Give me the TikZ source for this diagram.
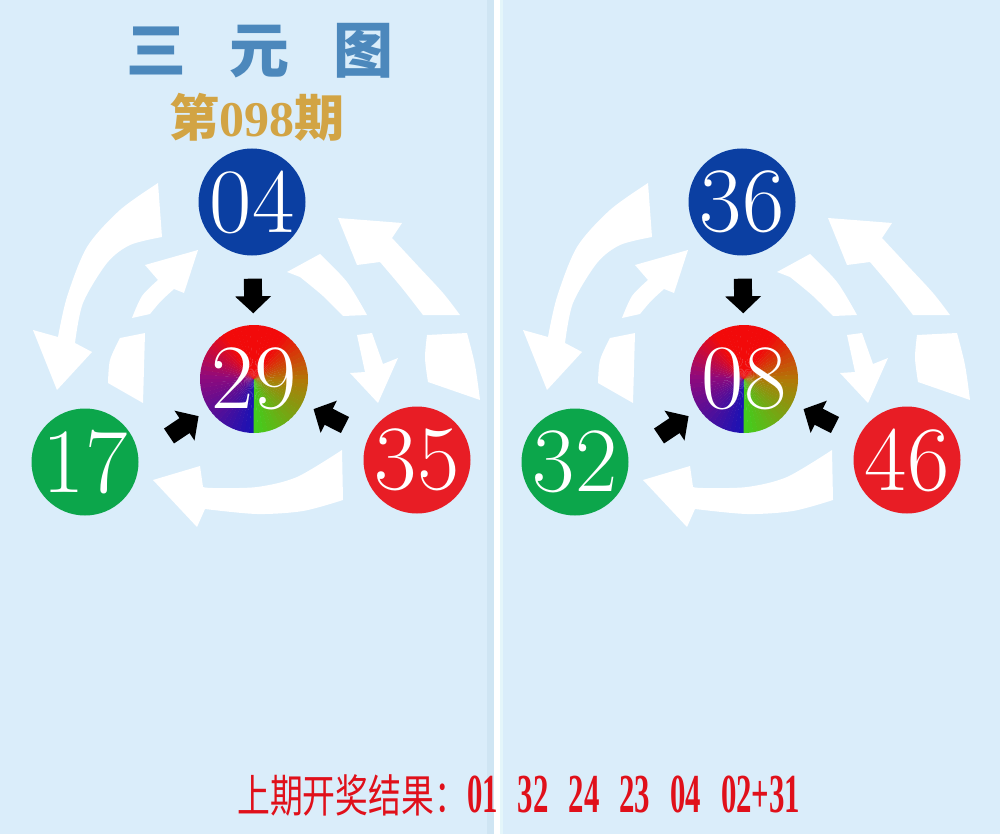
\documentclass[tikz,border=0pt]{standalone}
\usepackage{fontspec}
\newfontfamily\cjk{Noto Sans CJK SC}
\newfontfamily\narrowcjk{Noto Sans CJK SC}[FakeStretch=0.73]
\newfontfamily\numfont{Liberation Serif}
\newfontfamily\narrownum{Liberation Serif}[FakeStretch=0.56]
\usetikzlibrary{arrows.meta, calc}

\definecolor{panelbg}{HTML}{DAEDFA}
\definecolor{stripbg}{HTML}{CFE5F3}
\definecolor{stripcyan}{HTML}{E4F6FA}
\definecolor{ballblue}{HTML}{0B3FA2}
\definecolor{ballgreen}{HTML}{0CA64B}
\definecolor{ballred}{HTML}{E81D25}
\definecolor{mixblue}{HTML}{1A12B4}
\definecolor{mixpurple}{HTML}{900A7C}
\definecolor{mixred}{HTML}{F20A0A}
\definecolor{mixolive}{HTML}{B07A08}
\definecolor{mixgreen}{HTML}{3CD21E}
\definecolor{titleblue}{HTML}{4C88BC}
\definecolor{issuegold}{HTML}{D2A444}
\definecolor{resultred}{HTML}{E0101A}

\tikzset{
	ball/.style={circle, minimum size=107pt, inner sep=0pt, text=white, font=\fontsize{92}{92}\selectfont}, % the numbered balls
	push/.style={line width=18pt, -{Triangle[width=35pt,length=17pt]}, black}, % black block arrows into the centre
	swirl/.style={fill=white, draw=none}, % white curved arrows behind
}

\newcommand{\numgap}{\hspace{20pt}}

% the white ring of curved arrows, in pixel coordinates
\newcommand{\swirls}{%
	\fill[swirl] plot[smooth] coordinates {(158,183) (120,210) (87,247) (67,297) (58,337)} -- (33,330) -- (57,390) -- (92,352) -- (75,343)
		-- plot[smooth] coordinates {(75,343) (83,303) (107,263) (130,245) (162,237)} -- cycle;
	\fill[swirl] plot[smooth] coordinates {(132,318) (142,296) (158,280)} -- (145,265) -- (198,250) -- (184,293) -- (174,289)
		-- plot[smooth] coordinates {(174,289) (161,301) (150,314)} -- cycle;
	\fill[swirl] (120,338) -- (145,333) -- (143,403) -- (108,383) -- plot[smooth] coordinates {(108,383) (110,360) (120,338)} -- cycle;
	\fill[swirl] (338,218) -- (402,223) -- (392,238) -- plot[smooth] coordinates {(392,238) (418,266) (443,293) (460,315)} -- (423,315)
		-- plot[smooth] coordinates {(423,315) (402,288) (380,262)} -- (357,265) -- cycle;
	\fill[swirl] (427,335) -- (467,333) -- plot[smooth] coordinates {(467,333) (475,365) (480,400)} -- (428,382)
		-- plot[smooth] coordinates {(428,382) (425,358) (427,335)} -- cycle;
	\fill[swirl] (287,272) -- (320,254) -- plot[smooth] coordinates {(320,254) (347,282) (367,315)} -- (343,316)
		-- plot[smooth] coordinates {(343,316) (323,296) (300,277)} -- cycle;
	\fill[swirl] (357,335) -- (372,333) -- (383,364) -- (398,358) -- (378,403) -- (350,373) -- (365,372) -- cycle;
	\fill[swirl] plot[smooth] coordinates {(342,450) (297,477) (257,487) (213,488) (203,487)} -- (200,466) -- (153,480) -- (197,527) -- (205,509)
		-- plot[smooth] coordinates {(205,509) (257,514) (303,511) (343,500)} -- cycle;
}

\begin{document}
\begin{tikzpicture}[x=1pt, y=-1pt]
	\useasboundingbox (0,0) rectangle (1000,834);
	\fill[panelbg] (0,0) rectangle (1000,834);
	\fill[stripbg] (487,0) rectangle (494,834);
	\fill[white] (494,0) rectangle (500,834);
	\fill[stripcyan] (500,0) rectangle (503,834);

	\node[font=\cjk\bfseries\fontsize{60}{60}\selectfont, text=titleblue] (title) at (260,51) {三\hspace{44pt}元\hspace{44pt}图};
	\node[text=issuegold, font=\fontsize{50}{50}\selectfont] (issue) at (257,117)
		{{\cjk\bfseries 第}{\numfont\bfseries 098}{\cjk\bfseries 期}};

	\foreach \dx/\ta/\tb/\tc/\td [count=\k] in {0/04/29/17/35, 490/36/08/32/46} {
		\begin{scope}[shift={(\dx,0)}]
			\swirls
			% centre ball: colour sweep, red across the top
			\begin{scope}
				\clip (254,379) circle[radius=54];
				\foreach \ca/\cb/\sa/\n in {mixblue/mixpurple/90/18, mixpurple/mixred/180/11, mixred/mixred/235/13, mixred/mixolive/300/12, mixolive/mixgreen/360/18} {
					\pgfmathtruncatemacro\m{\n-1}
					\foreach \i in {0,...,\m} {
						\pgfmathsetmacro\pc{100-\i*100/\n}
						\fill[\ca!\pc!\cb] (254,379) -- +(\sa+\i*5:70) -- +(\sa+\i*5+5.5:70) -- cycle;
					}
				}
			\end{scope}
			\node[ball, fill=ballblue] (top\k) at (252,202) {\ta};
			\node[ball] (mid\k) at (254,379) {\tb};
			\node[ball, fill=ballgreen] (left\k) at (85,462) {\tc};
			\node[ball, fill=ballred] (right\k) at (417,460) {\td};
			\coordinate (fromleft\k) at (169,436);
			\coordinate (fromright\k) at (345,425);
			\draw[push, shorten <=23pt, shorten >=12pt] (top\k) -- (mid\k);
			\draw[push, shorten >=13pt] (fromleft\k) -- (mid\k);
			\draw[push, shorten >=13pt] (fromright\k) -- (mid\k);
		\end{scope}
	}

	\node[anchor=base west, text=resultred, inner sep=0pt] (result) at (237,812)
		{{\narrowcjk\fontsize{45}{45}\selectfont 上期开奖结果：}{\narrownum\bfseries\fontsize{55}{55}\selectfont 01\numgap 32\numgap 24\numgap 23\numgap 04\numgap 02+31}};
\end{tikzpicture}
\end{document}
